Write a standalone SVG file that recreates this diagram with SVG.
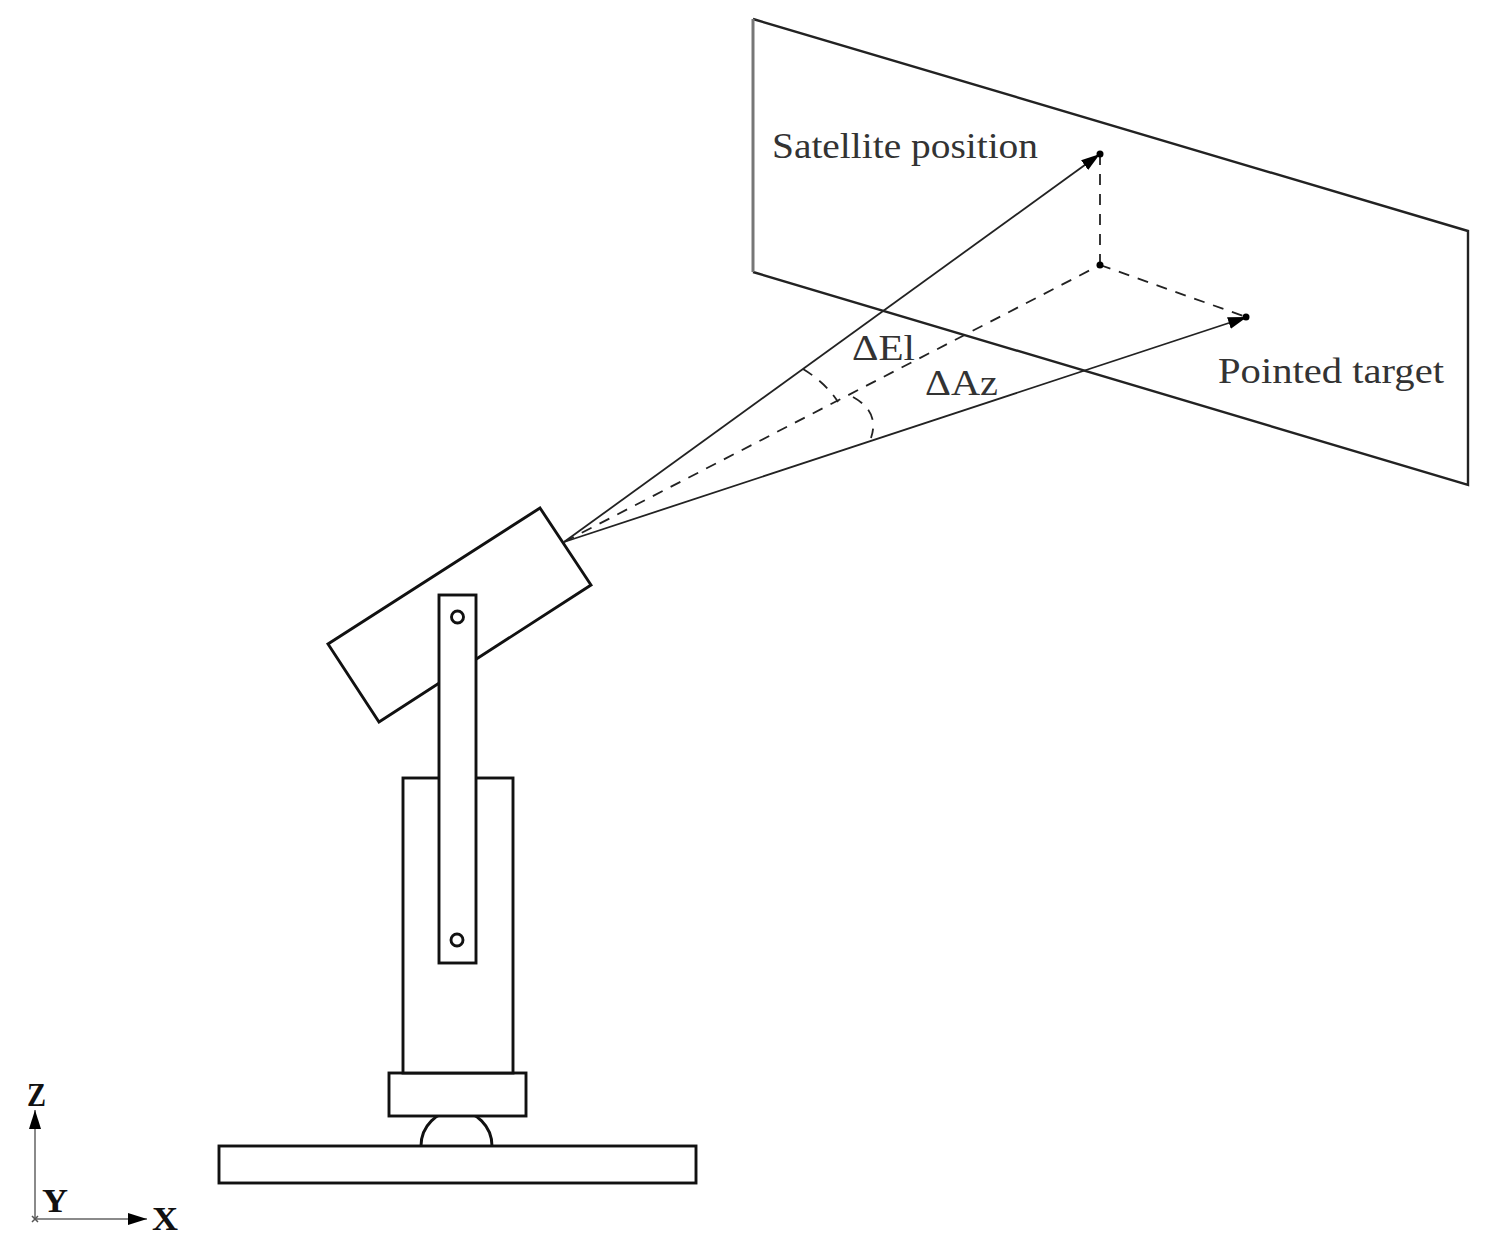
<svg xmlns="http://www.w3.org/2000/svg" width="1491" height="1248" viewBox="0 0 1491 1248">
<defs>
<marker id="arrow" markerUnits="userSpaceOnUse" markerWidth="22" markerHeight="14" refX="19" refY="6" orient="auto"><path d="M0 0L19 6L0 12Z" fill="#000"/></marker>
</defs>
<style>
.s{fill:#fff;stroke:#111;stroke-width:2.900}
.o{fill:none;stroke:#222;stroke-width:2.400}
.g{fill:none;stroke:#777;stroke-width:3}
.c{fill:none;stroke:#222;stroke-width:1.800}
.d{fill:none;stroke:#222;stroke-width:1.800;stroke-dasharray:11 9}
.ax{fill:none;stroke:#8a8a8a;stroke-width:2}
.t{font-family:"Liberation Serif","Times New Roman",serif;font-size:36px;fill:#333}
.b{font-family:"Liberation Serif","Times New Roman",serif;font-size:33px;font-weight:bold;fill:#111}
</style>
<rect width="1491" height="1248" fill="#fff"/>
<g id="plane"><path class="o" d="M753 19L1468 231V485L753 272"/><path class="g" d="M753 19V272"/></g>
<g id="dome"><path class="s" d="M421 1146A35.500 35.500 0 0 1 492 1146"/></g>
<g id="base"><rect class="s" x="219" y="1146" width="477" height="37"/></g>
<g id="collar"><rect class="s" x="389" y="1073" width="137" height="43"/></g>
<g id="body"><rect class="s" x="403" y="778" width="110" height="295"/></g>
<g id="telescope"><path class="s" d="M540 508L591 585L379 722L328 644Z"/></g>
<g id="arm"><rect class="s" x="439" y="595" width="37" height="368"/>
<circle class="s" cx="457.500" cy="617" r="6"/><circle class="s" cx="457" cy="940" r="6"/></g>
<g id="connectors">
<path class="c" d="M564 542L1100 154" marker-end="url(#arrow)"/>
<path class="c" d="M564 542L1247 317" marker-end="url(#arrow)"/>
<path class="d" d="M564 542L1100 265"/>
<path class="d" d="M1100 154V265"/>
<path class="d" d="M1100 265L1246 317"/>
<path class="d" d="M803 369Q826 383 838 402"/>
<path class="d" d="M853 397Q880 412 871 438"/>
<path class="ax" d="M35 1219V1110" marker-end="url(#arrow)"/>
<path class="ax" d="M35 1219H147" marker-end="url(#arrow)"/>
</g>
<g id="points" fill="#000">
<circle cx="1100" cy="154" r="3.500"/><circle cx="1100" cy="265" r="3.500"/><circle cx="1246" cy="317" r="3.500"/>
<path d="M32 1216L38 1222M38 1216L32 1222" stroke="#555" stroke-width="1.500"/>
</g>
<g id="labels">
<text class="t" x="772" y="158" textLength="266" lengthAdjust="spacingAndGlyphs">Satellite position</text>
<text class="t" x="1218" y="383" textLength="226" lengthAdjust="spacingAndGlyphs">Pointed target</text>
<text class="t" x="852" y="360" textLength="63" lengthAdjust="spacingAndGlyphs">ΔEl</text>
<text class="t" x="925" y="395" textLength="73" lengthAdjust="spacingAndGlyphs">ΔAz</text>
<text class="b" x="27" y="1106" textLength="19" lengthAdjust="spacingAndGlyphs">Z</text>
<text class="b" x="42" y="1212" textLength="26" lengthAdjust="spacingAndGlyphs">Y</text>
<text class="b" x="152" y="1230" textLength="26" lengthAdjust="spacingAndGlyphs">X</text>
</g>
</svg>
